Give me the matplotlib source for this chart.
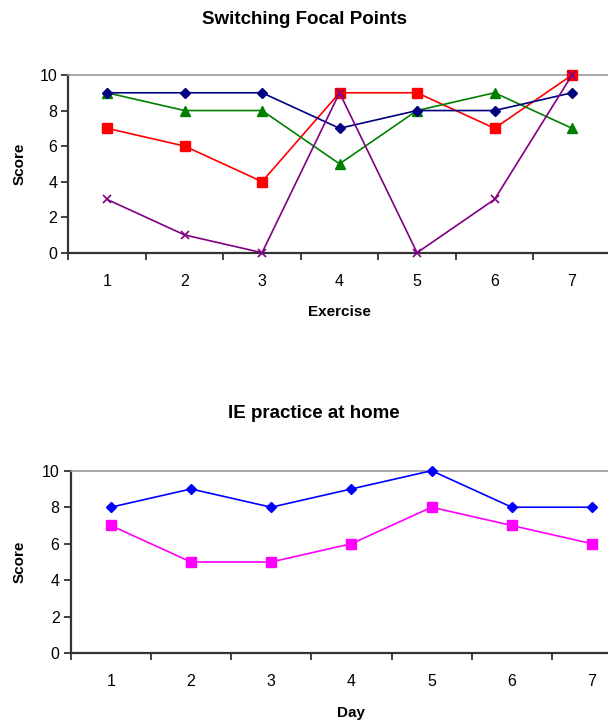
import matplotlib
matplotlib.use("Agg")
import matplotlib.pyplot as plt

plt.rcParams['font.family'] = ['Liberation Sans', 'DejaVu Sans']

exercises = [1, 2, 3, 4, 5, 6, 7]
s_blue = [9, 9, 9, 7, 8, 8, 9]
s_red = [7, 6, 4, 9, 9, 7, 10]
s_green = [9, 8, 8, 5, 8, 9, 7]
s_purple = [3, 1, 0, 9, 0, 3, 10]

days = [1, 2, 3, 4, 5, 6, 7]
d_blue = [8, 9, 8, 9, 10, 8, 8]
d_magenta = [7, 5, 5, 6, 8, 7, 6]

yticks = [0, 2, 4, 6, 8, 10]

fig = plt.figure(figsize=(6.08, 7.22), dpi=100)
W, H = 608, 722

def style(ax, xs):
    ax.set_xlim(0.5, 7.5)
    ax.set_ylim(0, 10)
    ax.set_yticks(yticks)
    ax.set_xticks([x - 0.5 for x in xs] + [xs[-1] + 0.5])
    ax.set_xticklabels([])
    ax.set_xticks(xs, minor=True)
    ax.set_xticklabels([str(x) for x in xs], minor=True)
    ax.tick_params(axis='x', which='minor', length=0, pad=15, labelsize=11.5)
    ax.tick_params(axis='x', which='major', length=5, width=1.3, color='#333333', direction='out')
    ax.tick_params(axis='y', length=5, width=1.3, color='#333333', direction='out', labelsize=11.5, pad=3)
    for side in ['left', 'bottom']:
        ax.spines[side].set_color('#333333')
        ax.spines[side].set_linewidth(1.6)
    ax.spines['top'].set_color('#999999')
    ax.spines['top'].set_linewidth(1.2)
    ax.spines['right'].set_visible(False)
    ax.set_facecolor('white')

# Top chart
l, r = 68.3, 68.3 + 7 * 77.5
b, t = 252.7, 75
ax1 = fig.add_axes([l / W, 1 - b / H, (r - l) / W, (b - t) / H])
ax1.plot(exercises, s_blue, color='#000080', marker='D', markersize=5.5, lw=1.2, clip_on=False, zorder=4)
ax1.plot(exercises, s_red, color='#FF0000', marker='s', markersize=6.5, lw=1.2, clip_on=False, zorder=3)
ax1.plot(exercises, s_green, color='#008000', marker='^', markersize=7, lw=1.2, clip_on=False, zorder=3)
ax1.plot(exercises, s_purple, color='#800080', marker='x', markersize=5.5, mew=1.2, lw=1.2, clip_on=False, zorder=5)
style(ax1, exercises)
ax1.set_ylabel('Score', fontsize=11, fontweight='bold', labelpad=9)
ax1.set_xlabel('Exercise', fontsize=11, fontweight='bold', labelpad=12)
fig.text(305 / W, 1 - 20 / H, 'Switching Focal Points', ha='center', va='center', fontsize=13.5, fontweight='bold')

# Bottom chart
l2, r2 = 70.7, 70.7 + 7 * 80.2
b2, t2 = 653.3, 470.7
ax2 = fig.add_axes([l2 / W, 1 - b2 / H, (r2 - l2) / W, (b2 - t2) / H])
ax2.plot(days, d_blue, color='#0000FF', marker='D', markersize=5.5, lw=1.2, clip_on=False, zorder=4)
ax2.plot(days, d_magenta, color='#FF00FF', marker='s', markersize=6.5, lw=1.2, clip_on=False, zorder=3)
style(ax2, days)
ax2.set_ylabel('Score', fontsize=11, fontweight='bold', labelpad=11)
ax2.set_xlabel('Day', fontsize=11, fontweight='bold', labelpad=12)
fig.text(314 / W, 1 - 413 / H, 'IE practice at home', ha='center', va='center', fontsize=13.5, fontweight='bold')

fig.savefig('out.png', dpi=100)
